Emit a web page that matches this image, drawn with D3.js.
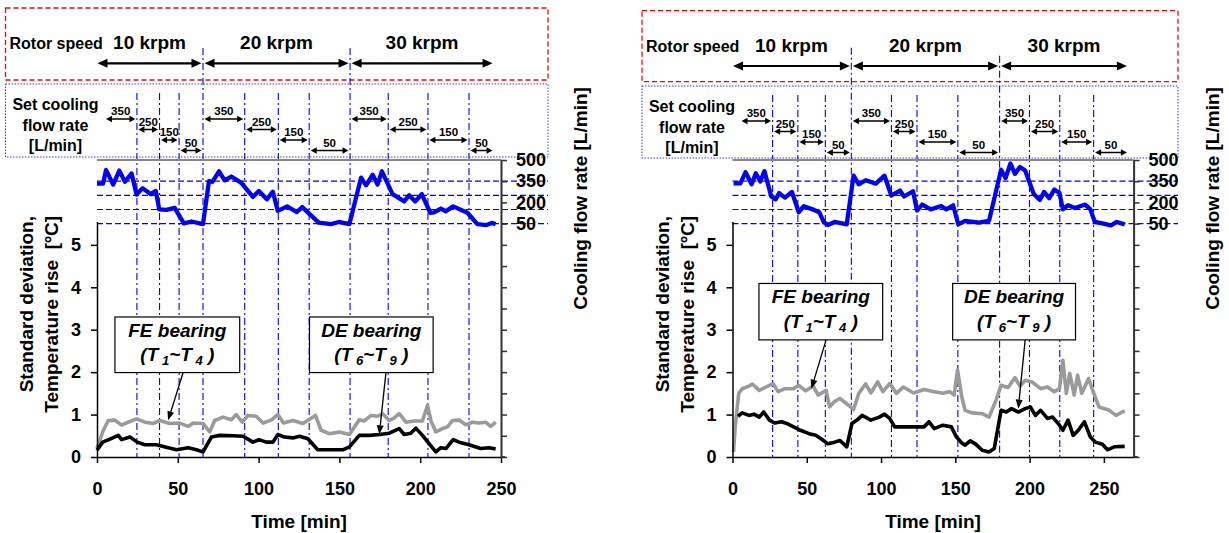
<!DOCTYPE html>
<html>
<head>
<meta charset="utf-8">
<script src="https://cdn.jsdelivr.net/npm/d3@7"></script>
<style>
  body { margin: 0; background: #fff; }
  text { font-family: "Liberation Sans", Arial, sans-serif; font-weight: bold; fill: #000; }
</style>
</head>
<body>
<svg id="chart" width="1229" height="533"></svg>
<script>
// ---- data ----
var speedLabels = ['10 krpm', '20 krpm', '30 krpm'];
var rateLabels = ['350', '250', '150', '50'];
var leftXTicks = [0, 50, 100, 150, 200, 250];
var rightXTicks = [0, 50, 100, 150, 200, 250];
var tempTicks = [0, 1, 2, 3, 4, 5];
var flowTicks = d3.range(-1600, 501, 150);
var flowLabelled = [500, 350, 200, 50];
var flowGrid = [350, 250, 150, 50];

// segment boundaries (min): 3 speeds x 4 flow rates
var leftBounds = [0, 24.7, 38.7, 50.8, 65.6, 91.4, 112.2, 131.3, 156.6, 180.2, 204.8, 230.2, 245.7];
var rightBounds = [0, 27, 44, 62.5, 80, 107, 124.2, 151.7, 179.8, 199.9, 220.3, 243.1, 266.5];

// [time, flow L/min]
var leftFlow = [[0,333],[3.8,333],[5.6,430],[10,326],[13.8,425],[17.3,346],[21.4,405],[24.5,256],[28.2,301],
  [33.1,259],[36.4,281],[38.5,151],[43,147],[48.1,162],[53.7,52],[58.4,65],[65.6,47],[69.3,351],[71.4,346],
  [75.5,420],[79,356],[83.1,383],[89.3,338],[96.5,239],[100.2,281],[105.1,222],[108.8,276],[111.9,140],
  [117.7,172],[123.7,132],[127,167],[137.2,57],[144.9,47],[149.6,62],[156.2,47],[163.4,375],[166.5,321],
  [170.6,396],[173.6,326],[176.3,420],[182.9,259],[190.1,207],[193.2,251],[196.9,207],[201,259],[206.2,127],
  [208.6,130],[212.8,157],[215.9,137],[220.4,172],[229.2,127],[235.4,47],[241,40],[244.3,55],[246.7,47]];
// [time, std dev degC]
var leftFE = [[0,0.2],[3.9,0.63],[7,0.86],[11,0.87],[15.2,0.75],[19.3,0.82],[24.5,0.9],[29.6,0.82],[34.8,0.79],
  [38.9,0.86],[45,0.79],[51.2,0.8],[56.4,0.72],[59.5,0.8],[65.6,0.79],[69.7,0.59],[72.8,0.86],[78,0.94],
  [83.1,0.88],[86.2,1.0],[89.9,0.82],[93.4,0.98],[98.5,0.96],[102.7,0.8],[107.8,0.87],[111.9,1.0],[115.4,0.8],
  [121.2,0.86],[127.4,0.79],[135.2,0.98],[138.7,0.63],[143.8,0.55],[150,0.59],[156.2,0.53],[162.3,0.88],
  [165.4,0.85],[169.6,0.98],[173.7,0.96],[176.8,1.02],[180.9,0.86],[184,0.92],[187,1.02],[191.2,0.82],
  [196.3,0.85],[201.4,0.85],[204.5,1.22],[206.6,0.86],[209.7,0.59],[213.8,0.67],[216.9,0.71],[220,0.86],
  [224.1,0.87],[228.2,0.76],[232.3,0.82],[236.4,0.8],[240.5,0.82],[243.6,0.72],[246.7,0.82]];
var leftDE = [[0,0.16],[3.5,0.35],[8,0.42],[13.2,0.51],[15.2,0.41],[20.4,0.47],[24.9,0.35],[29.6,0.29],
  [36.8,0.29],[41,0.25],[49.2,0.17],[56.4,0.22],[61.5,0.17],[65.6,0.12],[70.8,0.47],[76,0.51],[84.2,0.5],
  [90.4,0.49],[96.5,0.35],[100.2,0.41],[104.7,0.35],[108.8,0.35],[111.9,0.53],[116,0.47],[121.2,0.45],
  [125.3,0.49],[130.5,0.43],[136.6,0.17],[143.8,0.17],[152.1,0.17],[156.2,0.24],[162.3,0.51],[168.5,0.51],
  [174.7,0.53],[180.9,0.56],[187,0.67],[190.1,0.53],[194.2,0.56],[197.3,0.68],[201.4,0.51],[205.6,0.31],
  [209.7,0.12],[212.8,0.22],[215.9,0.2],[220.4,0.41],[224.1,0.35],[230.2,0.29],[237.4,0.2],[242.6,0.22],
  [246.7,0.19]];

var rightFlow = [[0.7,335],[5.3,335],[8.8,414],[12.9,328],[15.7,407],[18.7,348],[21.5,421],[26.1,242],
  [29.1,222],[31.4,266],[35.3,234],[40,274],[44.6,131],[48,173],[53.8,151],[58.4,131],[61.4,62],[64.2,40],
  [68.8,62],[76.9,45],[81.5,389],[85,328],[89.6,357],[96.5,333],[102.3,389],[106.9,249],[112.7,284],
  [115.5,242],[121.5,279],[124.2,143],[127.7,185],[133.5,151],[140.4,175],[143.9,151],[148.5,180],[152,45],
  [156.6,70],[165.8,57],[172.7,70],[180.8,431],[183.8,372],[187.1,475],[190.1,402],[193.5,451],[197,426],
  [202.8,259],[206.9,217],[209.7,274],[213.2,230],[216.6,291],[220.1,266],[222.4,151],[225.9,180],
  [230.5,160],[237.4,185],[240.9,151],[243.9,62],[249,52],[254.7,38],[258.7,62],[264,45]];
var rightFE = [[0.7,0.12],[1.8,0.71],[4.2,1.5],[6.5,1.61],[11.1,1.67],[13.4,1.72],[18,1.57],[22.6,1.65],
  [27.3,1.73],[30.7,1.54],[35.3,1.61],[41.1,1.61],[44.6,1.69],[49.2,1.56],[54.3,1.67],[57.7,1.46],[63,1.57],
  [65.4,1.18],[68.4,1.3],[72.3,1.38],[78.1,1.22],[81.5,1.12],[85,1.5],[89.6,1.72],[93.1,1.51],[97.7,1.77],
  [101.2,1.54],[105.8,1.73],[110.4,1.5],[115,1.65],[121.9,1.51],[128.9,1.59],[135.8,1.54],[141.6,1.5],
  [146.2,1.54],[149.2,1.46],[151.5,2.05],[154.3,1.42],[156.6,1.1],[161.2,1.04],[168.1,1.02],[172.7,0.94],
  [177.4,1.34],[180.8,1.69],[185.5,1.64],[190.1,1.87],[193.5,1.67],[197,1.81],[201.6,1.77],[207.4,1.61],
  [212,1.65],[216.6,1.54],[220.1,1.61],[222.4,2.28],[224.7,1.5],[227,1.97],[230,1.46],[232.3,1.93],
  [235.1,1.5],[239.7,1.85],[243.2,1.5],[246.7,1.18],[253.6,1.1],[258.2,0.98],[264,1.09]];
var rightDE = [[3.7,0.96],[6.5,1.04],[11.1,0.98],[14.5,1.01],[18,0.94],[21,1.06],[24.9,0.87],[28.4,0.8],
  [33,0.83],[36.5,0.79],[41.1,0.71],[45.7,0.63],[51.5,0.55],[56.1,0.51],[59.6,0.43],[64.2,0.31],[68.8,0.35],
  [72.3,0.39],[76.9,0.24],[80.4,0.79],[83.8,0.87],[87.3,0.98],[93.1,0.87],[98.8,0.94],[102.3,1.01],
  [105.8,0.91],[109.2,0.71],[115,0.71],[121.9,0.71],[128.9,0.71],[132.3,0.83],[135.8,0.67],[141.6,0.75],
  [147.3,0.71],[150.8,0.47],[154.3,0.33],[156.6,0.28],[160,0.38],[163.5,0.31],[168.1,0.16],[172.7,0.12],
  [176.2,0.2],[180.8,1.1],[184.3,1.06],[187.8,1.14],[192.4,1.06],[197,1.14],[200.5,1.18],[203.9,0.98],
  [207.4,1.1],[212,0.91],[215.5,0.94],[220.1,0.75],[222.4,0.63],[225.9,0.87],[229.3,0.51],[232.8,0.63],
  [236.9,0.83],[240.9,0.47],[244.3,0.35],[249,0.3],[252.4,0.17],[257,0.24],[264,0.25]];

var svg = d3.select('#chart');
svg.append('rect').attr('width', 1229).attr('height', 533).attr('fill', '#fff');

function dblArrow(g, xa, xb, y, hl, hw, sw) {
  g.append('line')
      .attr('x1', xa + hl * 0.7).attr('x2', xb - hl * 0.7)
      .attr('y1', y).attr('y2', y)
      .attr('stroke', '#000').attr('stroke-width', sw);
  g.append('path')
      .attr('d', 'M' + xa + ',' + y + 'L' + (xa + hl) + ',' + (y - hw) + 'L' + (xa + hl) + ',' + (y + hw) + 'Z')
      .attr('fill', '#000');
  g.append('path')
      .attr('d', 'M' + xb + ',' + y + 'L' + (xb - hl) + ',' + (y - hw) + 'L' + (xb - hl) + ',' + (y + hw) + 'Z')
      .attr('fill', '#000');
}

function pointer(g, x1, y1, x2, y2) {
  var a = Math.atan2(y2 - y1, x2 - x1), hl = 9, hw = 3.5;
  var bx = x2 - hl * Math.cos(a), by = y2 - hl * Math.sin(a);
  g.append('line').attr('x1', x1).attr('y1', y1).attr('x2', bx).attr('y2', by)
      .attr('stroke', '#000').attr('stroke-width', 1.3);
  g.append('path')
      .attr('d', 'M' + x2 + ',' + y2 +
                 'L' + (bx + hw * Math.sin(a)) + ',' + (by - hw * Math.cos(a)) +
                 'L' + (bx - hw * Math.sin(a)) + ',' + (by + hw * Math.cos(a)) + 'Z')
      .attr('fill', '#000');
}

function drawPanel(p) {
  var x = d3.scaleLinear().domain([0, p.tMax]).range([p.x0, p.x1]),
      yT = d3.scaleLinear().domain([0, 7]).range([457, 160]),
      yF = d3.scaleLinear().domain([-1600, 500]).range([457, 160]);
  var b = p.bounds;
  var g = svg.append('g');

  // header boxes
  g.append('rect')
      .attr('x', p.boxL).attr('y', p.redTop)
      .attr('width', p.boxR - p.boxL).attr('height', p.redBot - p.redTop)
      .attr('fill', 'none').attr('stroke', '#ff0000').attr('stroke-width', 1.3)
      .attr('stroke-dasharray', '5,3');
  g.append('rect')
      .attr('x', p.boxL).attr('y', p.blueTop)
      .attr('width', p.boxR - p.boxL).attr('height', p.blueBot - p.blueTop)
      .attr('fill', 'none').attr('stroke', '#3a3aff').attr('stroke-width', 1)
      .attr('stroke-dasharray', '1.5,1.5');

  g.append('text').attr('x', p.boxL + 4).attr('y', p.redTop + 41)
      .style('font-size', '16px').text('Rotor speed');
  ['Set cooling', 'flow rate', '[L/min]'].forEach(function(s, i) {
    g.append('text').attr('x', p.boxL + 50).attr('y', p.blueTop + 25.7 + i * 20.8)
        .attr('text-anchor', 'middle').style('font-size', '16px').text(s);
  });

  // horizontal flow gridlines
  g.selectAll('line.hgrid').data(flowGrid).enter().append('line')
      .attr('class', 'hgrid')
      .attr('x1', x(0)).attr('x2', p.boxR)
      .attr('y1', function(d) { return yF(d); }).attr('y2', function(d) { return yF(d); })
      .attr('stroke', '#0000ff').attr('stroke-width', 1.2).attr('stroke-dasharray', '6,3');

  // vertical segment lines
  var inner = b.slice(1, 12);
  g.selectAll('line.vgrid').data(inner).enter().append('line')
      .attr('class', 'vgrid')
      .attr('x1', function(d) { return x(d); }).attr('x2', function(d) { return x(d); })
      .attr('y1', function(d, i) {
        if (i === 3) return p.majorTop[0];
        if (i === 7) return p.majorTop[1];
        return p.blueTop + 9;
      })
      .attr('y2', yT(0))
      .attr('stroke', '#0000ff').attr('stroke-width', 1.1).attr('stroke-dasharray', '7,3,2,3');

  // speed arrows and labels
  speedLabels.forEach(function(s, i) {
    var xa = x(b[i * 4]) + (i === 0 ? 0.5 : 1.5), xb = x(b[i * 4 + 4]) - 1.5;
    dblArrow(g, xa, xb, p.speedY, 10, 4.5, 2.2);
    g.append('text').attr('x', (xa + xb) / 2).attr('y', p.speedY - 14.5)
        .attr('text-anchor', 'middle').style('font-size', '19px').text(s);
  });

  // flow rate arrows and labels
  var rateOff = [35, 45.5, 56, 66.5];
  for (var i = 0; i < 12; i++) {
    var xa = x(b[i]) + (i === 0 ? 9 : 1.5), xb = x(b[i + 1]) - 1.5,
        yy = p.blueTop + rateOff[i % 4];
    dblArrow(g, xa, xb, yy, 6, 3.2, 1.5);
    g.append('text').attr('x', (xa + xb) / 2).attr('y', yy - 4)
        .attr('text-anchor', 'middle').style('font-size', '11.5px').text(rateLabels[i % 4]);
  }

  // plot top border
  g.append('line').attr('x1', x(0)).attr('x2', x(p.tMax))
      .attr('y1', yT(7)).attr('y2', yT(7))
      .attr('stroke', '#888').attr('stroke-width', 2);

  // series
  var lineT = d3.line().x(function(d) { return x(d[0]); }).y(function(d) { return yT(d[1]); }),
      lineF = d3.line().x(function(d) { return x(d[0]); }).y(function(d) { return yF(d[1]); });
  g.append('path').datum(p.fe).attr('d', lineT)
      .attr('fill', 'none').attr('stroke', '#9a9a9a').attr('stroke-width', 3.6).attr('stroke-linejoin', 'round');
  g.append('path').datum(p.de).attr('d', lineT)
      .attr('fill', 'none').attr('stroke', '#000').attr('stroke-width', 3.6).attr('stroke-linejoin', 'round');
  g.append('path').datum(p.flow).attr('d', lineF)
      .attr('fill', 'none').attr('stroke', '#0000ff').attr('stroke-width', 4.3).attr('stroke-linejoin', 'round');

  // axes
  var fmt = d3.format('d');
  var xAxis = g.append('g').attr('transform', 'translate(0,' + yT(0) + ')')
      .call(d3.axisBottom(x).tickValues(p.xTicks).tickFormat(fmt)
        .tickSize(6).tickPadding(19).tickSizeOuter(0));
  xAxis.append('line').attr('x1', x(p.tMax)).attr('x2', x(p.tMax) + 4).attr('stroke', '#000').attr('stroke-width', 1.5);

  var yTa = d3.scaleLinear().domain([0, 5.55]).range([yT(0), yT(5.55)]);
  var yAxis = g.append('g').attr('transform', 'translate(' + x(0) + ',0)')
      .call(d3.axisLeft(yTa).tickValues(tempTicks).tickFormat(fmt)
        .tickSize(6).tickPadding(10).tickSizeOuter(0));

  var fAxis = g.append('g').attr('transform', 'translate(' + x(p.tMax) + ',0)')
      .call(d3.axisRight(yF).tickValues(flowTicks)
        .tickFormat(function(d) { return flowLabelled.indexOf(d) >= 0 ? d : ''; })
        .tickSize(6).tickPadding(9).tickSizeOuter(0));

  [xAxis, yAxis].forEach(function(a) {
    a.select('.domain').attr('stroke', '#000').attr('stroke-width', 1.5);
    a.selectAll('.tick line').attr('stroke', '#000').attr('stroke-width', 1.5);
  });
  fAxis.select('.domain').attr('stroke', '#333').attr('stroke-width', 2);
  fAxis.selectAll('.tick line').attr('stroke', '#333').attr('stroke-width', 1.5);
  [xAxis, yAxis, fAxis].forEach(function(a) {
    a.selectAll('.tick text')
        .style('font-size', '18px').style('font-weight', 'bold')
        .style('font-family', '"Liberation Sans", Arial, sans-serif').attr('fill', '#000');
  });

  // axis titles
  g.append('text').attr('x', x(p.tMax / 2)).attr('y', 528)
      .attr('text-anchor', 'middle').style('font-size', '19px').text('Time [min]');
  ['Standard deviation,', 'Temperature rise  [\u00baC]'].forEach(function(s, i) {
    g.append('text')
        .attr('transform', 'translate(' + (x(0) - 70.3 + i * 25) + ',216) rotate(-90)')
        .attr('dy', '0.35em').attr('text-anchor', 'end')
        .style('font-size', '19px').style('white-space', 'pre').text(s);
  });
  g.append('text')
      .attr('transform', 'translate(' + (x(p.tMax) + 79) + ',198.5) rotate(-90)')
      .attr('dy', '0.35em').attr('text-anchor', 'middle')
      .style('font-size', '19px').text('Cooling flow rate [L/min]');

  // annotation boxes
  p.notes.forEach(function(n) {
    var bx0 = x(n.t0), bx1 = x(n.t1), by0 = yT(n.vTop), by1 = yT(n.vBot), cx = (bx0 + bx1) / 2;
    g.append('rect').attr('x', bx0).attr('y', by0)
        .attr('width', bx1 - bx0).attr('height', by1 - by0)
        .attr('fill', '#fff').attr('stroke', '#000').attr('stroke-width', 1.2);
    g.append('text').attr('x', cx).attr('y', by0 + 20)
        .attr('text-anchor', 'middle').style('font-size', '19px').style('font-style', 'italic')
        .text(n.name);
    var t2 = g.append('text').attr('x', cx).attr('y', by0 + 44.5)
        .attr('text-anchor', 'middle').style('font-size', '19px').style('font-style', 'italic')
        .style('white-space', 'pre');
    t2.append('tspan').text('(T');
    t2.append('tspan').attr('dy', 4).style('font-size', '13px').text(' ' + n.sub[0]);
    t2.append('tspan').attr('dy', -4).text('~T');
    t2.append('tspan').attr('dy', 4).style('font-size', '13px').text(' ' + n.sub[1]);
    t2.append('tspan').attr('dy', -4).text(' )');
    pointer(g, x(n.from[0]), yT(n.from[1]), x(n.to[0]), yT(n.to[1]));
  });
}

drawPanel({
  tMax: 250, x0: 97, x1: 501, bounds: leftBounds, xTicks: leftXTicks,
  boxL: 5.5, boxR: 548, redTop: 8, redBot: 80, blueTop: 84, blueBot: 157,
  speedY: 63.3, majorTop: [48, 48],
  flow: leftFlow, fe: leftFE, de: leftDE,
  notes: [
    {name: 'FE bearing', sub: ['1', '4'], t0: 11.1, t1: 88.3, vTop: 3.3, vBot: 1.99, from: [53.3, 1.99], to: [44, 0.865]},
    {name: 'DE bearing', sub: ['6', '9'], t0: 131.5, t1: 208, vTop: 3.3, vBot: 1.99, from: [178.8, 1.99], to: [174.7, 0.535]}
  ]
});

drawPanel({
  tMax: 270, x0: 732.5, x1: 1133.6, bounds: rightBounds, xTicks: rightXTicks,
  boxL: 642, boxR: 1178, redTop: 10.7, redBot: 81.7, blueTop: 86, blueBot: 158,
  speedY: 66, majorTop: [47.7, 55.7],
  flow: rightFlow, fe: rightFE, de: rightDE,
  notes: [
    {name: 'FE bearing', sub: ['1', '4'], t0: 17.8, t1: 101.1, vTop: 4.09, vBot: 2.76, from: [63, 2.76], to: [53.1, 1.61]},
    {name: 'DE bearing', sub: ['6', '9'], t0: 148.2, t1: 230.9, vTop: 4.09, vBot: 2.76, from: [197, 2.76], to: [192.4, 1.14]}
  ]
});
</script>
</body>
</html>
